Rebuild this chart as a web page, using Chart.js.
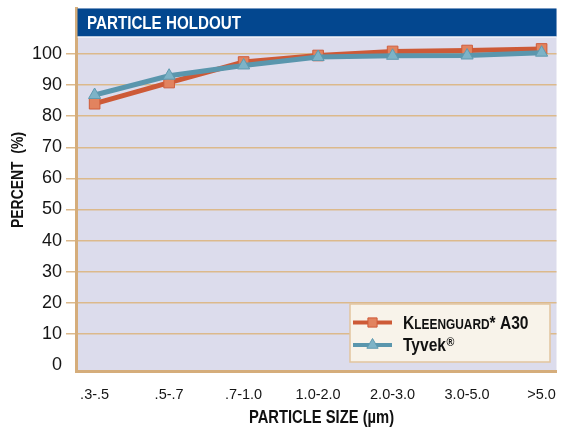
<!DOCTYPE html>
<html><head><meta charset="utf-8">
<script src="https://cdn.jsdelivr.net/npm/chart.js@4.4.1/dist/chart.umd.min.js"></script>
<style>html,body{margin:0;padding:0;background:#fff}#wrap{width:565px;height:433px;position:relative}</style>
</head><body><div id="wrap"><canvas id="c"></canvas></div>
<script>
const categories = ['.3-.5', '.5-.7', '.7-1.0', '1.0-2.0', '2.0-3.0', '3.0-5.0', '>5.0'];
const kleenguardA30 = [84, 90.8, 97.4, 99.5, 100.8, 101.1, 101.6];
const tyvek = [86.8, 93.0, 96.3, 99.0, 99.4, 99.5, 100.4];
const yTicks = [0, 10, 20, 30, 40, 50, 60, 70, 80, 90, 100];
const seriesNames = ['KLEENGUARD* A30', 'Tyvek®'];
const chartTitle = 'PARTICLE HOLDOUT';
const xTitle = 'PARTICLE SIZE (µm)';
const yTitle = 'PERCENT  (%)';

const FONT = '"Liberation Sans", Arial, sans-serif';
const SQ = 0.82; // horizontal squeeze to mimic a condensed face
const TAN = '#dcb98b';
const TAN_DARK = '#d5ad7b';
const RED = {line: '#cd5a37', fill: '#e2835f', border: '#cf5b3a'};
const BLUE = {line: '#5a96ad', fill: '#7db3c7', border: '#5f9ab0'};

function squeezed(ctx, text, x, y, align) {
  ctx.save();
  ctx.translate(x, y);
  ctx.scale(SQ, 1);
  ctx.textAlign = align;
  ctx.fillText(text, 0, 0);
  ctx.restore();
  return ctx.measureText(text).width * SQ;
}

const decor = {
  id: 'decor',
  beforeDraw(chart) {
    const {ctx, chartArea: a} = chart;
    ctx.save();
    ctx.fillStyle = '#dcdcec';
    ctx.fillRect(a.left, a.top, a.right - a.left, a.bottom - a.top);
    ctx.restore();
  },
  afterDraw(chart) {
    const {ctx, chartArea: a} = chart;
    ctx.save();
    // title bar
    ctx.fillStyle = '#03478f';
    ctx.fillRect(a.left + 1.5, a.top, a.right - a.left - 1.5, 28);
    ctx.fillStyle = '#ffffff';
    ctx.fillRect(a.left + 1.5, a.top + 28, a.right - a.left - 1.5, 1);
    ctx.font = 'bold 18.5px ' + FONT;
    ctx.textBaseline = 'middle';
    squeezed(ctx, chartTitle, 87, a.top + 15, 'left');

    // axis titles
    ctx.fillStyle = '#111';
    ctx.font = 'bold 18px ' + FONT;
    squeezed(ctx, xTitle, 321.5, 418, 'center');
    ctx.save();
    ctx.translate(18.5, 180);
    ctx.rotate(-Math.PI / 2);
    ctx.font = 'bold 17px ' + FONT;
    squeezed(ctx, yTitle, 0, 0, 'center');
    ctx.restore();

    // legend
    const lx = 350, ly = 304, lw = 200, lh = 58;
    ctx.fillStyle = '#f8f3ea';
    ctx.fillRect(lx, ly, lw, lh);
    ctx.strokeStyle = '#e2c59e';
    ctx.lineWidth = 1.5;
    ctx.strokeRect(lx, ly, lw, lh);
    const rows = [322.5, 345];
    chart.data.datasets.forEach((ds, i) => {
      const y = rows[i];
      ctx.strokeStyle = ds.borderColor;
      ctx.lineWidth = 4;
      ctx.beginPath();
      ctx.moveTo(353, y);
      ctx.lineTo(392, y);
      ctx.stroke();
      ctx.fillStyle = ds.pointBackgroundColor;
      ctx.strokeStyle = ds.pointBorderColor;
      ctx.lineWidth = 1;
      Chart.helpers.drawPoint(ctx, {pointStyle: ds.pointStyle, radius: 6.5, rotation: 0, borderWidth: 1}, 372.5, y);
      ctx.fillStyle = '#111';
      ctx.textBaseline = 'alphabetic';
      const label = ds.label;
      let x = 403;
      const base = y + 6;
      if (label.indexOf('*') > 0) {
        const parts = [[label[0], 19], [label.slice(1, label.indexOf('*')), 14.5], [label.slice(label.indexOf('*')), 19]];
        parts.forEach(([t, s]) => {
          ctx.font = 'bold ' + s + 'px ' + FONT;
          x += squeezed(ctx, t, x, base, 'left');
        });
      } else {
        const k = label.indexOf('®');
        const main = k >= 0 ? label.slice(0, k) : label;
        ctx.font = 'bold 19px ' + FONT;
        x += squeezed(ctx, main, x, base, 'left') + 0.5;
        if (k >= 0) {
          ctx.font = 'bold 13px ' + FONT;
          squeezed(ctx, label.slice(k), x, base - 5, 'left');
        }
      }
    });
    ctx.restore();
  }
};

new Chart(document.getElementById('c'), {
  type: 'line',
  data: {
    datasets: [
      {
        label: seriesNames[0],
        data: kleenguardA30.map((v, i) => ({x: i, y: v})),
        borderColor: RED.line, borderWidth: 5,
        pointStyle: 'rect', pointRadius: 7.5,
        pointBackgroundColor: RED.fill, pointBorderColor: RED.border, pointBorderWidth: 1,
        tension: 0, order: 1
      },
      {
        label: seriesNames[1],
        data: tyvek.map((v, i) => ({x: i, y: v})),
        borderColor: BLUE.line, borderWidth: 5,
        pointStyle: 'triangle', pointRadius: 7,
        pointBackgroundColor: BLUE.fill, pointBorderColor: BLUE.border, pointBorderWidth: 1,
        tension: 0, order: 0
      }
    ]
  },
  options: {
    responsive: true, maintainAspectRatio: false, animation: false,
    layout: {padding: {top: 5, right: 7, left: 0, bottom: 0}},
    plugins: {legend: {display: false}, tooltip: {enabled: false}},
    scales: {
      x: {
        type: 'linear', min: -0.25, max: 6.2,
        afterBuildTicks: s => { s.ticks = categories.map((_, i) => ({value: i})); },
        afterFit: s => { s.height = 62; s.paddingLeft = 0; s.paddingRight = 0; },
        grid: {display: false, drawTicks: false},
        border: {display: true, color: TAN_DARK, width: 3},
        ticks: {callback: v => categories[v], font: {family: FONT, size: 14.5}, color: '#151515', padding: 15, maxRotation: 0, autoSkip: false}
      },
      y: {
        type: 'linear', min: -1.9, max: 114.6,
        afterBuildTicks: s => { s.ticks = yTicks.map(v => ({value: v})); },
        afterFit: s => { s.width = 76; s.paddingTop = 0; s.paddingBottom = 0; },
        grid: {color: c => (c.tick && c.tick.value === 0) ? 'rgba(0,0,0,0)' : TAN, lineWidth: 1.5, tickLength: 10, drawTicks: true},
        border: {color: TAN_DARK, width: 3},
        ticks: {font: {family: FONT, size: 18}, color: '#151515', padding: 4}
      }
    }
  },
  plugins: [decor]
});
</script>
</body></html>
